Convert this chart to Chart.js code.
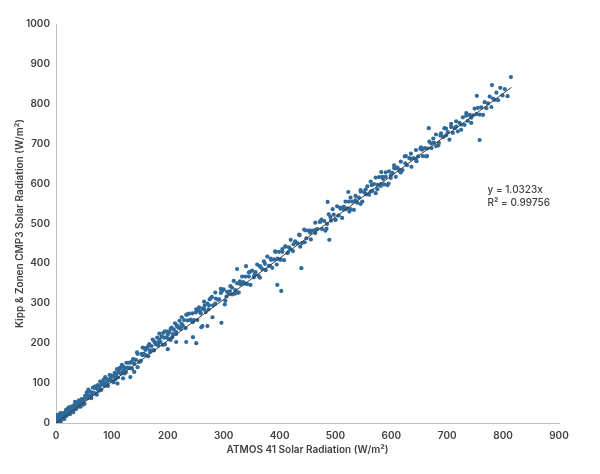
<!DOCTYPE html>
<html>
<head>
<meta charset="utf-8">
<script src="https://cdn.jsdelivr.net/npm/chart.js@4.4.1/dist/chart.umd.min.js"></script>
<style>
  html, body { margin: 0; padding: 0; background: #fff; }
  #wrap { width: 600px; height: 474px; }
</style>
</head>
<body>
<div id="wrap"><canvas id="chart" width="600" height="474"></canvas></div>
<script>
// ATMOS 41 readings (x) and matching Kipp & Zonen CMP3 readings (y), W/m²
const atmosX = [
  // near origin
  0, 1, 1, 2, 3, 5, 7, 0, 3, 8, 4, 6,
  // 0 - 50
  1, 2, 2, 3, 4, 4, 5, 6, 6, 7, 8, 9, 9, 10, 11, 12, 13, 13, 14, 15,
  16, 16, 17, 18, 19, 20, 20, 21, 22, 23, 24, 25, 25, 26, 27, 28, 29, 30, 31, 31,
  32, 33, 34, 35, 36, 37, 38, 39, 40, 41, 42, 43, 44, 45, 46, 47, 48, 49, 50, 51,
  // 50 - 150
  52, 54, 55, 57, 58, 60, 61, 63, 64, 66, 67, 69, 70, 72, 73, 75, 76, 78, 79, 81,
  82, 84, 85, 87, 88, 90, 91, 93, 94, 96, 97, 99, 100, 102, 103, 105, 106, 108, 109, 111,
  112, 114, 115, 117, 118, 120, 121, 123, 124, 126, 128, 130, 132, 134, 136, 138, 140, 143, 146, 149,
  3, 9, 15, 21, 27, 34, 41, 48, 56, 63, 70, 77, 84, 91, 98, 106, 114, 122, 131, 140,
  110, 120, 133, 140, 146,
  // 150 - 300
  151, 153, 155, 157, 159, 161, 163, 165, 167, 169, 171, 173, 175, 177, 179, 181, 183, 185, 187, 189,
  191, 193, 195, 197, 199, 201, 203, 205, 207, 209, 211, 213, 215, 217, 219, 221, 223, 225, 227, 229,
  232, 235, 238, 241, 244, 247, 250, 253, 256, 259, 262, 265, 268, 271, 274, 277, 281, 285, 290, 295,
  152, 160, 168, 176, 184, 192, 200, 208, 216, 224, 233, 242, 251, 258, 266, 273, 279, 286, 292, 298,
  200, 215, 233, 251, 262, 271, 296, 245, 280, 260,
  // 300 - 500
  300, 303, 306, 309, 312, 315, 318, 321, 324, 327, 330, 333, 336, 339, 342, 345, 348, 351, 354, 357,
  360, 363, 366, 369, 372, 375, 378, 381, 384, 387, 390, 393, 396, 399, 402, 405, 408, 411, 414, 417,
  420, 424, 428, 432, 436, 440, 444, 448, 452, 456, 460, 464, 468, 472, 476, 480, 484, 488, 492, 497,
  324, 340, 403, 396, 439, 489, 486,
  // 500 - 700
  500, 503, 506, 509, 512, 515, 518, 521, 524, 527, 530, 533, 536, 539, 542, 545, 548, 551, 554, 557,
  560, 563, 566, 569, 572, 575, 578, 581, 584, 587, 590, 593, 596, 599, 602, 605, 608, 611, 614, 617,
  620, 624, 628, 632, 636, 640, 644, 648, 652, 656, 660, 664, 668, 672, 676, 680, 684, 688, 693, 698,
  302, 311, 320, 329, 338, 347, 356, 365, 374, 383, 392, 401, 410, 419, 428, 437, 446, 455, 464, 473,
  482, 491, 500, 509, 518, 527, 536, 545, 554, 563, 572, 581, 590, 599, 608, 617, 626, 635, 644, 653,
  662, 671, 680, 689, 698, 707, 716, 725, 734, 743,
  // 700 - 815
  701, 704, 707, 710, 713, 716, 719, 722, 725, 728, 731, 734, 737, 740, 743, 746, 749, 752, 755, 758,
  761, 764, 767, 770, 773, 776, 779, 782, 785, 788, 791, 795, 799, 803, 808,
  667, 523, 582, 753, 780, 814, 758,
  // second pass 100 - 700
  105, 115, 125, 135, 145, 155, 165, 175, 185, 195, 205, 215, 225, 235, 245, 255, 265, 275, 285, 295,
  305, 315, 325, 335, 345, 355, 365, 375, 385, 395, 405, 415, 425, 435, 445, 455, 465, 475, 485, 495,
  505, 515, 525, 535, 545, 555, 565, 575, 585, 595, 605, 615, 625, 635, 645, 655, 665, 675, 685, 695
];

const kippY = [
  // near origin
  5, 1, 16, 19, 10, 0, 14, 11, 20, 25, 15, 3,
  // 0 - 50
  12, 3, 8, 17, 2, 12, 9, 18, 6, 22, 10, 18, 5, 15, 24, 15, 23, 12, 21, 10,
  27, 17, 24, 33, 18, 29, 25, 34, 23, 39, 27, 35, 22, 32, 41, 32, 40, 30, 39, 27,
  44, 35, 41, 50, 35, 46, 43, 52, 41, 57, 45, 53, 41, 51, 60, 51, 59, 49, 59, 48,
  // 50 - 150
  68, 65, 77, 62, 84, 68, 79, 62, 76, 89, 76, 88, 74, 87, 71, 95, 82, 91, 104, 83,
  98, 96, 108, 93, 115, 99, 110, 93, 107, 120, 107, 119, 105, 118, 102, 126, 113, 122, 135, 114,
  129, 126, 138, 124, 146, 130, 141, 124, 138, 151, 139, 151, 138, 151, 136, 160, 148, 158, 173, 153,
  1, 19, 16, 36, 34, 53, 50, 46, 71, 69, 92, 81, 103, 101, 113, 109, 136, 135, 138, 159,
  99, 112, 115, 128, 140,
  // 150 - 300
  155, 173, 189, 173, 188, 170, 187, 167, 198, 182, 193, 209, 182, 202, 197, 214, 194, 224, 203, 217,
  196, 214, 230, 214, 229, 211, 228, 208, 239, 223, 234, 250, 223, 244, 239, 256, 236, 265, 244, 258,
  238, 257, 274, 259, 275, 258, 277, 258, 290, 275, 287, 304, 278, 299, 295, 313, 295, 327, 309, 326,
  156, 183, 178, 204, 202, 226, 221, 215, 243, 241, 271, 256, 285, 279, 294, 285, 316, 312, 310, 332,
  185, 203, 203, 200, 243, 243, 251, 215, 265, 240,
  // 300 - 500
  335, 306, 329, 324, 343, 322, 356, 333, 350, 327, 348, 367, 350, 367, 348, 367, 346, 382, 365, 378,
  397, 368, 391, 386, 405, 384, 417, 394, 412, 389, 410, 429, 412, 429, 410, 429, 408, 443, 426, 440,
  459, 431, 455, 451, 471, 451, 485, 463, 482, 460, 482, 502, 486, 504, 486, 506, 487, 523, 507, 522,
  386, 393, 331, 346, 388, 459, 554,
  // 500 - 700
  510, 543, 520, 537, 514, 535, 555, 538, 555, 536, 555, 534, 569, 552, 565, 584, 555, 579, 574, 593,
  572, 605, 582, 599, 576, 597, 616, 599, 617, 598, 617, 596, 631, 614, 627, 646, 617, 640, 635, 655,
  634, 668, 646, 664, 642, 664, 684, 668, 687, 669, 689, 669, 705, 689, 703, 723, 696, 720, 717, 738,
  297, 330, 324, 355, 350, 379, 373, 364, 399, 394, 430, 409, 442, 436, 453, 442, 483, 477, 476, 505,
  482, 516, 509, 540, 536, 565, 558, 549, 585, 580, 615, 594, 628, 621, 638, 628, 669, 662, 661, 691,
  668, 701, 694, 726, 721, 750, 743, 735, 770, 765,
  // 700 - 815
  729, 710, 742, 727, 739, 756, 731, 752, 748, 766, 747, 777, 757, 772, 752, 771, 788, 774, 790, 773,
  791, 772, 804, 789, 801, 818, 792, 813, 810, 828, 809, 840, 821, 837, 819,
  739, 579, 629, 820, 847, 867, 709,
  // second pass 100 - 700
  117, 139, 127, 153, 177, 170, 193, 183, 209, 197, 236, 228, 248, 272, 253, 282, 285, 310, 299, 336,
  317, 339, 327, 353, 377, 370, 393, 383, 409, 397, 436, 428, 448, 472, 453, 482, 485, 510, 499, 536,
  520, 542, 530, 556, 580, 573, 596, 586, 612, 600, 639, 631, 651, 675, 656, 685, 688, 713, 702, 739
];

// linear trend through the origin, y = 1.0323x
const trendX = [0, 815];
const trendY = [0, 841.3];

const xTicks = [0, 100, 200, 300, 400, 500, 600, 700, 800, 900];
const yTicks = [0, 100, 200, 300, 400, 500, 600, 700, 800, 900, 1000];

const trendLabel = ['y = 1.0323x', 'R² = 0.99756'];
const trendLabelAt = { x: 772, y: 584 };

const textColor = '#404040';
const axisColor = '#bfbfbf';
const fontFamily = 'Inter, "Noto Sans", sans-serif';

const points = atmosX.map((x, i) => ({ x: x, y: kippY[i] }));
const trend = trendX.map((x, i) => ({ x: x, y: trendY[i] }));

// draws the trendline equation next to the line
const equationPlugin = {
  id: 'equation',
  afterDatasetsDraw(chart) {
    const { ctx, scales } = chart;
    const px = scales.x.getPixelForValue(trendLabelAt.x);
    const py = scales.y.getPixelForValue(trendLabelAt.y);
    ctx.save();
    ctx.fillStyle = textColor;
    ctx.font = '500 10px ' + fontFamily;
    ctx.textAlign = 'left';
    ctx.textBaseline = 'middle';
    trendLabel.forEach((t, i) => ctx.fillText(t, px, py + i * 13));
    ctx.restore();
  }
};

new Chart(document.getElementById('chart'), {
  type: 'scatter',
  data: {
    datasets: [
      {
        data: points,
        backgroundColor: '#2F6A9B',
        borderWidth: 0,
        pointRadius: 2.1,
        order: 2,
      },
      {
        type: 'line',
        data: trend,
        borderColor: '#3a3a3a',
        borderWidth: 1,
        pointRadius: 0,
        fill: false,
        order: 1,
      },
    ],
  },
  options: {
    responsive: false,
    animation: false,
    layout: { padding: { top: 24, right: 41, bottom: 14, left: 10 } },
    plugins: {
      legend: { display: false },
      tooltip: { enabled: false },
    },
    scales: {
      x: {
        type: 'linear',
        min: 0,
        max: 900,
        afterBuildTicks: (s) => { s.ticks = xTicks.map(v => ({ value: v })); },
        afterFit: (s) => { s.height = 37; },
        grid: { display: false, drawTicks: false },
        border: { color: axisColor, width: 1 },
        ticks: {
          color: textColor,
          padding: 7,
          maxRotation: 0,
          callback: (v) => String(v),
          font: { family: fontFamily, size: 10, weight: 600 },
        },
        title: {
          display: true,
          text: 'ATMOS 41 Solar Radiation (W/m²)',
          color: textColor,
          padding: { top: 2 },
          font: { family: fontFamily, size: 10, weight: 600 },
        },
      },
      y: {
        type: 'linear',
        min: 0,
        max: 1000,
        afterBuildTicks: (s) => { s.ticks = yTicks.map(v => ({ value: v })); },
        afterFit: (s) => { s.width = 46; },
        grid: { display: false, drawTicks: false },
        border: { color: axisColor, width: 1 },
        ticks: {
          color: textColor,
          padding: 6,
          callback: (v) => String(v),
          font: { family: fontFamily, size: 10, weight: 600 },
        },
        title: {
          display: true,
          text: 'Kipp & Zonen CMP3 Solar Radiation (W/m²)',
          color: textColor,
          padding: { bottom: 2 },
          font: { family: fontFamily, size: 10, weight: 600 },
        },
      },
    },
  },
  plugins: [equationPlugin],
});
</script>
</body>
</html>
